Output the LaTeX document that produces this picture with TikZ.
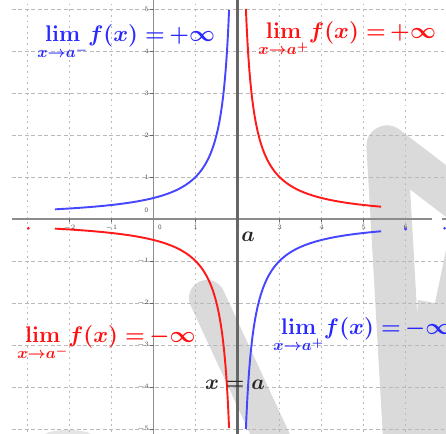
\RequirePackage{fix-cm}
\documentclass[tikz,border=0pt]{standalone}
\usepackage{amsmath}
\definecolor{cblue}{RGB}{70,70,255}
\definecolor{cred}{RGB}{255,25,25}
\definecolor{tblue}{RGB}{40,40,255}
\definecolor{tred}{RGB}{255,15,15}
\definecolor{wm}{RGB}{218,218,218}
\definecolor{gridc}{RGB}{185,185,185}
\begin{document}
\begin{tikzpicture}[x=1cm,y=1cm,
  wmark/.style={wm, line cap=round, line join=round},
  vgrid/.style={gridc, line width=0.5pt, dash pattern=on 1.2pt off 2.6pt},
  hgrid/.style={gridc, line width=0.5pt, dash pattern=on 2.6pt off 1.8pt},
  axisline/.style={black!45, line width=1.3pt},
  asym/.style={black!60, line width=1.4pt},
  curve/.style={line width=1.3pt},
  ticklab/.style={font=\sffamily\fontsize{4.5}{5}\selectfont, text=black!70, inner sep=0pt},
  limtext/.style={font=\fontsize{15.3}{18}\selectfont\boldmath, inner sep=0pt},
  eqtext/.style={font=\fontsize{14.4}{17}\selectfont\boldmath, inner sep=0pt, text=black!85}]
\useasboundingbox (-3.655,-5.119) rectangle (6.964,5.214);
\fill[white] (-3.655,-5.119) rectangle (6.964,5.214);
\clip (-3.655,-5.119) rectangle (6.964,5.214);
% watermark
\draw[wmark, line width=0.857cm] (1.274,-1.881) -- (2.893,-5.381);
\draw[wmark, line width=0.98cm] (5.964,-5.381) -- (5.56,1.738) -- (7.774,0.048);
\fill[wm] (6.298,-1.929) -- (6.702,-2.0) -- (6.964,-0.738) -- (6.964,-5.119) -- (6.107,-5.119) -- cycle;
\fill[black!10] (-2.036,-5.19) ellipse (0.6 and 0.17);
% grid
\foreach \gx in {-3,-2,-1,1,3,4,5,6} \draw[vgrid] (\gx,-5.2) -- (\gx,5.3);
\foreach \gy in {-5,-4,-3,-2,-1,1,2,3,4,5} \draw[hgrid] (-3.37,\gy) -- (7,\gy);
% axes
\coordinate (xl) at (-3.37,0);
\coordinate (xr) at (6.63,0);
\coordinate (xr2) at (6.87,0);
\coordinate (xr3) at (7.0,0);
\coordinate (yb) at (0,-5.2);
\coordinate (yt) at (0,5.3);
\coordinate (ab) at (2,-5.2);
\coordinate (at) at (2,5.3);
\draw[axisline] (xl) -- (xr);
\draw[axisline] (xr2) -- (xr3);
\draw[axisline] (yb) -- (yt);
\foreach \gy in {-5,-4,-3,-2,-1,1,2,3,4,5} {
  \draw[black!60, line width=0.4pt] (-0.08,\gy) -- (0,\gy);
  \node[ticklab, anchor=east] (yl\gy) at (-0.1,\gy) {$\gy$};
}
\node[ticklab, anchor=east] (yl0) at (-0.12,0.2) {0};
\foreach \gx in {-2,-1,1,2,3,4,5} {
  \draw[black!60, line width=0.4pt] (\gx,0) -- (\gx,-0.08);
  \node[ticklab, anchor=north] (xl\gx) at (\gx,-0.13) {$\gx$};
}
\node[ticklab, anchor=north] (xl0) at (0.15,-0.13) {0};
\node[ticklab, anchor=north] (xl6) at (6,-0.13) {6};
\fill[cred] (-2.98,-0.22) circle (0.035);
\fill[cblue] (6,-0.24) circle (0.04);
\fill[cblue] (6.93,-0.22) circle (0.035);
% asymptote
\draw[asym] (ab) -- (at);
% curves
\draw[curve, cblue, domain=-2.35:1.8, samples=250] plot (\x,{1/(2-\x)});
\draw[curve, cred, domain=2.2:5.42, samples=250] plot (\x,{1/(\x-2)});
\draw[curve, cred, domain=-2.35:1.8, samples=250] plot (\x,{-1/(2-\x)});
\draw[curve, cblue, domain=2.2:5.42, samples=250] plot (\x,{-1/(\x-2)});
% texts
\node[limtext, text=tblue, anchor=base west] (l1) at (-2.774,4.214) {$\displaystyle\lim_{x\to a^-}\mkern-3mu f(x)=\mkern-2mu+\infty$};
\node[limtext, text=tred, anchor=base west] (l2) at (2.488,4.286) {$\displaystyle\lim_{x\to a^+}\mkern-3mu f(x)=\mkern-2mu+\infty$};
\node[limtext, text=tred, anchor=base west] (l3) at (-3.25,-2.952) {$\displaystyle\lim_{x\to a^-}\mkern-3mu f(x)=\mkern-2mu-\infty$};
\node[limtext, text=tblue, anchor=base west] (l4) at (2.845,-2.762) {$\displaystyle\lim_{x\to a^+}\mkern-3mu f(x)=\mkern-2mu-\infty$};
\node[eqtext] (xa) at (1.94,-3.95) {$x=a$};
\node[eqtext] (alab) at (2.25,-0.43) {$a$};
\end{tikzpicture}
\end{document}
